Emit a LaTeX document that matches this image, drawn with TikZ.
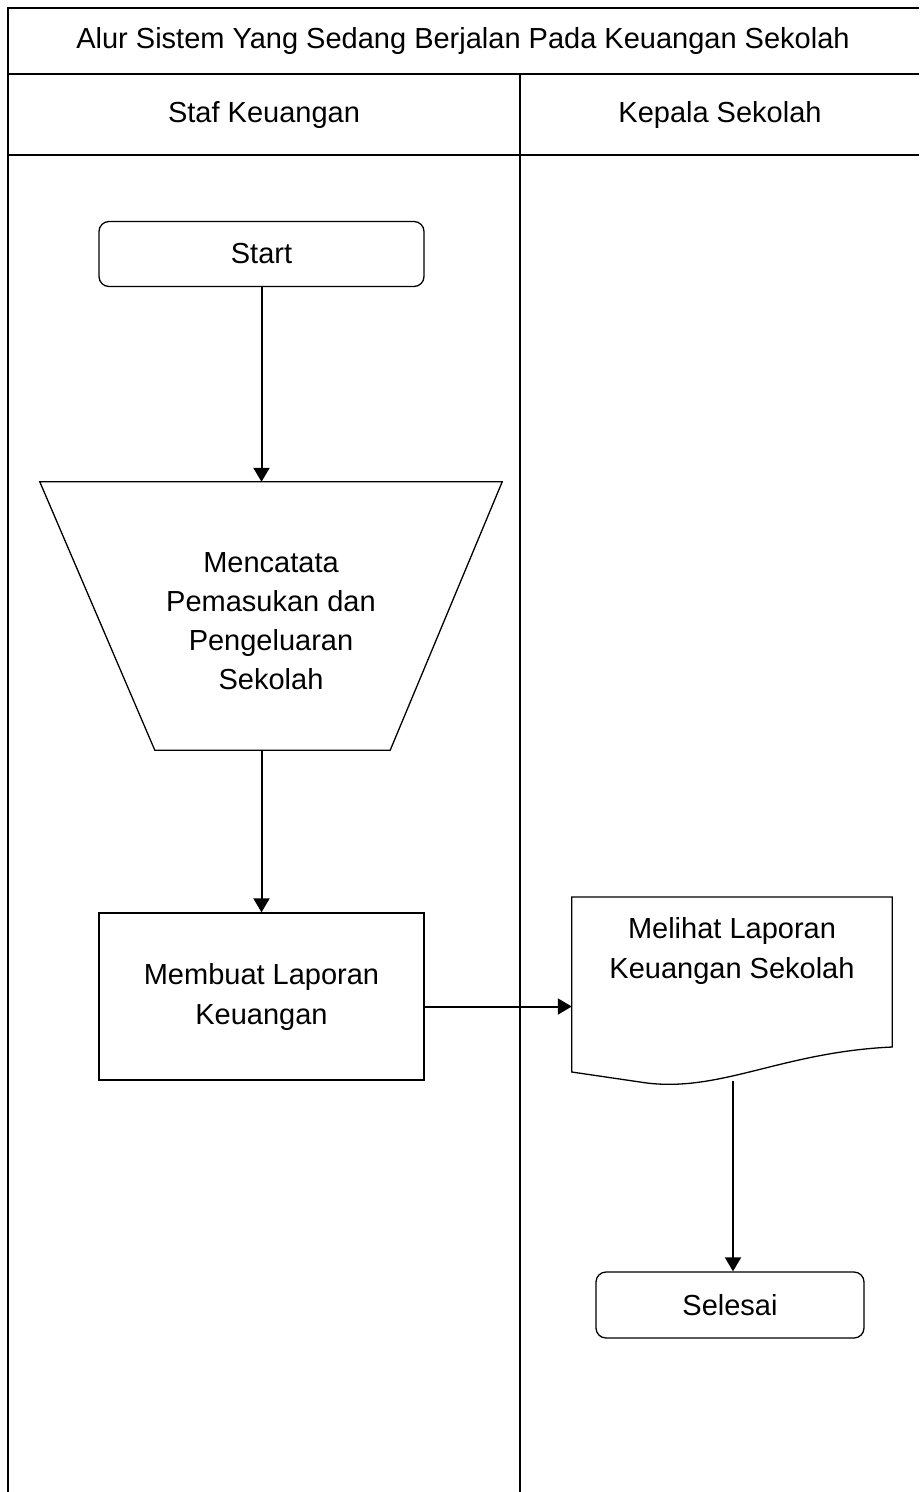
\documentclass[tikz,border=0pt]{standalone}
\usepackage{fontspec}
\setmainfont{Liberation Sans}
\usepackage{tikz}
\usetikzlibrary{arrows.meta,positioning,shapes.geometric,calc}

\begin{document}
\begin{tikzpicture}[
  x=1pt, y=-1pt,
  lane/.style={line width=2pt},
  term/.style={rectangle, rounded corners=10pt, draw, line width=1.3pt, minimum width=325pt, minimum height=65pt, align=center},
  proc/.style={rectangle, draw, line width=1.3pt, minimum width=325pt, minimum height=167pt, align=center},
  manual/.style={rectangle, minimum width=462pt, minimum height=268pt, align=center},
  flow/.style={-{Triangle[length=14pt,width=16pt]}, line width=2pt},
  font=\fontsize{29}{40}\selectfont,
]
  \useasboundingbox (0,0) rectangle (919,1492);

  % swimlanes
  \draw[lane] (919,8) -- (8,8) -- (8,1492);
  \draw[lane] (8,74) -- (919,74);
  \draw[lane] (8,155) -- (919,155);
  \draw[lane] (520,74) -- (520,1492);
  \node (judul) at (463,41) {Alur Sistem Yang Sedang Berjalan Pada Keuangan Sekolah};
  \node (staf) at (264,115) {Staf Keuangan};
  \node (kepsek) at (720,115) {Kepala Sekolah};

  \node[term] (start) at (261.5,254) {Start};
  \node[manual, font=\fontsize{29}{39}\selectfont] (catat) at (271,621) {Mencatata\\Pemasukan dan\\Pengeluaran\\Sekolah};
  \node[proc] (laporan) at (261.5,996.5) {Membuat Laporan\\Keuangan};
  \node[minimum width=320pt, minimum height=180pt, align=center, anchor=north] (lihat) at (732,897) {Melihat Laporan\\Keuangan Sekolah\\[38pt]};
  \node[term, minimum width=268pt, minimum height=66pt] (selesai) at (730,1305) {Selesai};

  % manual input shape (5pt above the text box)
  \coordinate (catatatas) at ([yshift=5pt]catat.north);
  \coordinate (catatbawah) at ([yshift=5pt]catat.south);
  \draw[line width=1.3pt] ([yshift=5pt]catat.north west) -- ([yshift=5pt]catat.north east)
    -- ($(catat.south east)+(-112,-5)$) -- ($(catat.south west)+(115,-5)$) -- cycle;
  % document shape
  \draw[line width=1.3pt] (lihat.north west) -- (lihat.north east) -- ($(lihat.north east)+(0,150)$)
    .. controls ($(lihat.north east)+(-110,155)$) and ($(lihat.north west)+(150,195)$) .. ($(lihat.north west)+(75,186)$)
    -- ($(lihat.north west)+(0,175)$) -- cycle;
  \coordinate (lihatbawah) at ($(lihat.north)+(1,184)$);
  \coordinate (laporankanan) at ([yshift=-10pt]laporan.east);

  \draw[flow] (start.south) -- (start.south |- catatatas);
  \draw[flow] (laporan.north |- catatbawah) -- (laporan.north);
  \draw[flow] (laporankanan) -- (laporankanan -| lihat.west);
  \draw[flow] (lihatbawah) -- (lihatbawah |- selesai.north);
\end{tikzpicture}
\end{document}
